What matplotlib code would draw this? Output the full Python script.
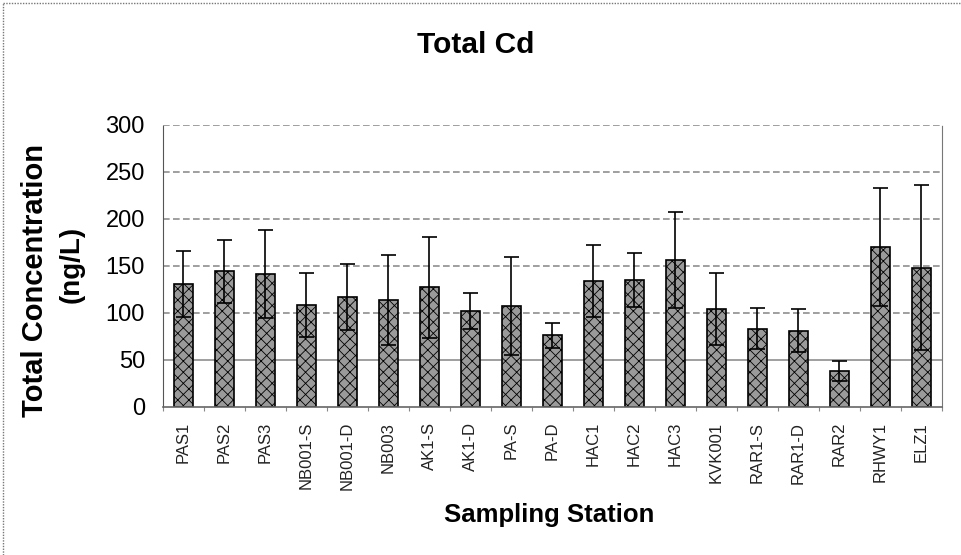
import matplotlib
matplotlib.use('Agg')
import matplotlib.pyplot as plt
import numpy as np

plt.rcParams['font.family'] = ['Liberation Sans', 'DejaVu Sans']
plt.rcParams['hatch.color'] = '#d4d4d4'
plt.rcParams['hatch.linewidth'] = 0.6

# Data
stations = ['PAS1', 'PAS2', 'PAS3', 'NB001-S', 'NB001-D', 'NB003', 'AK1-S', 'AK1-D',
            'PA-S', 'PA-D', 'HAC1', 'HAC2', 'HAC3', 'KVK001', 'RAR1-S', 'RAR1-D',
            'RAR2', 'RHWY1', 'ELZ1']
total_cd = [131, 144, 141, 108, 117, 114, 127, 102, 107, 76, 134, 135, 156, 104, 83, 81, 38, 170, 148]
std_dev = [35, 34, 47, 34, 35, 48, 54, 19, 52, 13, 38, 29, 51, 38, 22, 23, 11, 63, 88]
y_ticks = [0, 50, 100, 150, 200, 250, 300]

fig = plt.figure(figsize=(9.61, 5.55), dpi=100)
ax = fig.add_axes([0.1696, 0.2672, 0.8104, 0.5076])

x = np.arange(len(stations))

# Grid lines (50 line is solid in the original)
for yv in y_ticks[1:]:
    if yv == 50:
        ax.axhline(yv, color='#8f8f8f', linewidth=1.2, linestyle='-', zorder=0)
    else:
        ax.axhline(yv, color='#8f8f8f', linewidth=1.2, linestyle=(0, (4, 2)), zorder=0)

# Bars and error bars
ax.bar(x, total_cd, width=0.46, color='#9a9a9a', edgecolor='black', linewidth=1.2,
       hatch='xxx', zorder=2)
ax.errorbar(x, total_cd, yerr=std_dev, fmt='none', ecolor='black', elinewidth=1.2,
            capsize=5.4, capthick=1.2, zorder=3)

ax.set_xlim(-0.5, len(stations) - 0.5)
ax.set_ylim(0, 300)
ax.set_yticks(y_ticks)
ax.set_yticklabels([str(v) for v in y_ticks], fontsize=17)
ax.set_xticks(x)
ax.set_xticklabels(stations, rotation=90, fontsize=12, color='#222222')
ax.set_xticks(np.arange(-0.5, len(stations), 1), minor=True)
ax.tick_params(axis='x', which='major', length=0, pad=11)
ax.tick_params(axis='x', which='minor', length=3, color='#888888', width=0.8)
ax.tick_params(axis='y', length=0, pad=13)

# Spines
ax.spines['top'].set_visible(False)
ax.spines['left'].set_color('#555555')
ax.spines['left'].set_linestyle((0, (1, 1)))
ax.spines['right'].set_color('#777777')
ax.spines['right'].set_linestyle((0, (1, 1)))
ax.spines['bottom'].set_color('#666666')
ax.spines['bottom'].set_linewidth(1.2)

# Titles and labels
fig.text(0.4953, 0.904, 'Total Cd', fontsize=21.5, fontweight='bold',
         ha='center', va='baseline')
fig.text(0.571, 0.060, 'Sampling Station', fontsize=18.5, fontweight='bold',
         ha='center', va='baseline')
fig.text(0.0364, 0.4937, 'Total Concentration', fontsize=21, fontweight='bold',
         rotation=90, ha='center', va='center')
fig.text(0.0749, 0.524, '(ng/L)', fontsize=20, fontweight='bold',
         rotation=90, ha='center', va='center')

# Outer chart frame (top and left edges visible)
fig.add_artist(plt.Line2D([3 / 961, 1], [1 - 3 / 555, 1 - 3 / 555], transform=fig.transFigure,
                          color='#777777', linewidth=1, linestyle=(0, (1, 1))))
fig.add_artist(plt.Line2D([3 / 961, 3 / 961], [0, 1 - 3 / 555], transform=fig.transFigure,
                          color='#777777', linewidth=1, linestyle=(0, (1, 1))))

fig.savefig('out.png', dpi=100)
